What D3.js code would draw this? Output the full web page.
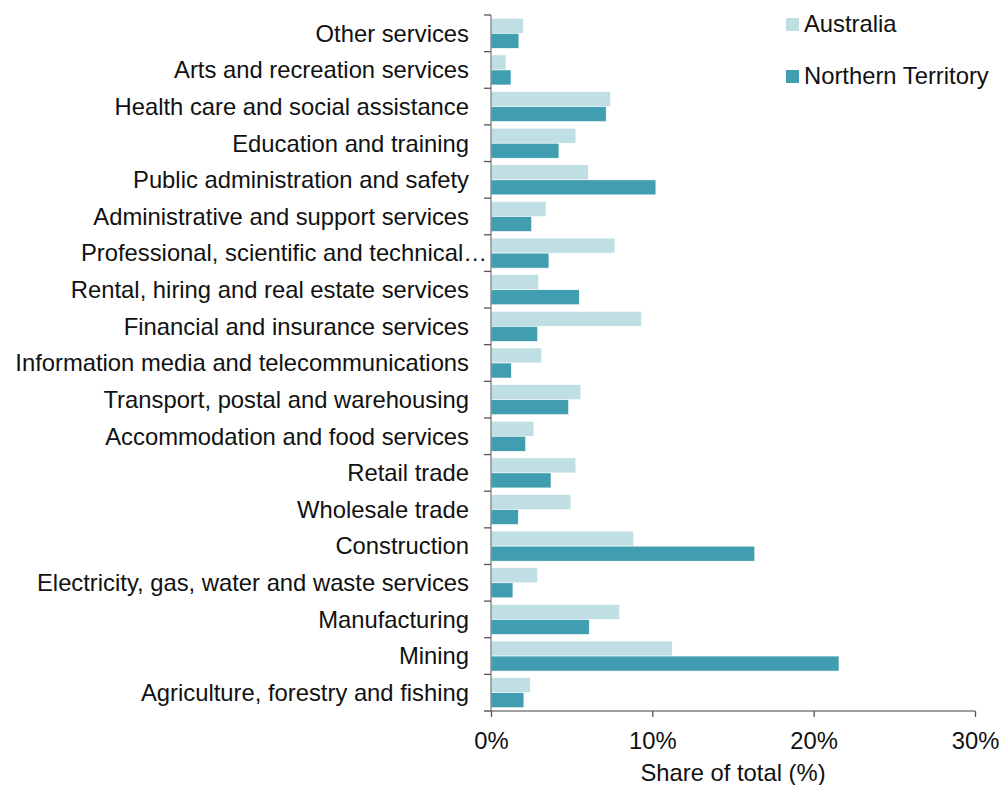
<!DOCTYPE html>
<html><head><meta charset="utf-8">
<script src="https://cdn.jsdelivr.net/npm/d3@7"></script>
<style>body{margin:0;background:#fff;} text{font-family:"Liberation Sans",Arial,sans-serif;}</style>
</head><body>
<svg id="c" width="1002" height="785"></svg>
<script>
const categories = ["Other services","Arts and recreation services","Health care and social assistance","Education and training","Public administration and safety","Administrative and support services","Professional, scientific and technical…","Rental, hiring and real estate services","Financial and insurance services","Information media and telecommunications","Transport, postal and warehousing","Accommodation and food services","Retail trade","Wholesale trade","Construction","Electricity, gas, water and waste services","Manufacturing","Mining","Agriculture, forestry and fishing"];
const australia = [2.0,0.93,7.41,5.26,6.03,3.41,7.68,2.95,9.33,3.14,5.57,2.66,5.26,4.95,8.85,2.89,7.97,11.23,2.44];
const northernTerritory = [1.73,1.24,7.14,4.21,10.22,2.52,3.59,5.47,2.89,1.26,4.81,2.15,3.72,1.69,16.35,1.36,6.09,21.57,2.04];
const seriesNames = ["Australia","Northern Territory"];
const colors = ["#bfdfe4","#409eb0"];
const xTicks = [0,10,20,30];
const FS = 23.8;

const svg = d3.select("#c");
const x = d3.scaleLinear().domain([0,30]).range([491,975]);
const y = d3.scaleBand().domain(categories).range([15,711]).paddingInner(0.18).paddingOuter(0.09);
const ys = d3.scaleBand().domain(seriesNames).range([0,y.bandwidth()]);

const data = categories.map((c,i)=>({c, vals:[australia[i], northernTerritory[i]]}));
const g = svg.append("g");
data.forEach(d=>{
  d.vals.forEach((v,j)=>{
    g.append("rect")
      .attr("x", x(0))
      .attr("y", y(d.c)+ys(seriesNames[j]))
      .attr("width", x(v)-x(0))
      .attr("height", ys.bandwidth())
      .attr("fill", colors[j])
      .attr("stroke","#fff").attr("stroke-width",0.6);
  });
});

// y axis
const yAxisG = svg.append("g").attr("transform","translate(491,0)");
yAxisG.append("line").attr("x1",0).attr("x2",0).attr("y1",15).attr("y2",711).attr("stroke","#7f7f7f").attr("stroke-width",1.3);
const stepTicks = categories.map((c,i)=>y.range()[0]+i*y.step()).concat([711]);
stepTicks.forEach(t=>{
  yAxisG.append("line").attr("x1",-7).attr("x2",0).attr("y1",t).attr("y2",t).attr("stroke","#555").attr("stroke-width",1.3);
});
categories.forEach(c=>{
  const truncated = c.endsWith("…");
  yAxisG.append("text").attr("x", truncated ? -4 : -22).attr("y",y(c)+y.bandwidth()/2).attr("dy","0.35em")
    .attr("text-anchor","end").attr("font-size",FS).attr("fill","#111").text(c);
});

// x axis
const xAxis = d3.axisBottom(x).tickValues(xTicks).tickFormat(d=>d+"%").tickSize(6).tickSizeOuter(0);
const xg = svg.append("g").attr("transform","translate(0,711)").call(xAxis);
xg.select(".domain").attr("stroke","#7f7f7f").attr("stroke-width",1.3).attr("d","M484,0H975");
xg.selectAll(".tick line").attr("stroke","#555").attr("stroke-width",1.3);
xg.selectAll(".tick text").attr("font-size",FS).attr("fill","#111").attr("y",30).attr("dy","0.35em").style("font-family","Liberation Sans, Arial, sans-serif");
svg.append("text").attr("x",733).attr("y",773).attr("dy","0.35em").attr("text-anchor","middle").attr("font-size",FS).attr("fill","#111").text("Share of total (%)");

// legend
const leg = svg.append("g");
seriesNames.forEach((s,i)=>{
  const cy = [24,76][i];
  leg.append("rect").attr("x",786).attr("y",cy-6).attr("width",13).attr("height",13).attr("fill",colors[i]);
  leg.append("text").attr("x",804).attr("y",cy).attr("dy","0.35em").attr("font-size",FS).attr("fill","#111").text(s);
});
</script>
</body></html>
